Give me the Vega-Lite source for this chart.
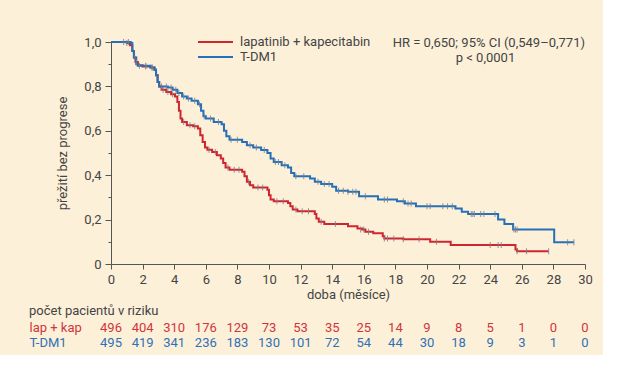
{
  "$schema": "https://vega.github.io/schema/vega-lite/v6.json",
  "background": "#fcf0d9",
  "padding": {"left": 29, "top": 34, "right": 10, "bottom": 5},
  "spacing": 4,
  "config": {
    "font": "Roboto",
    "view": {"stroke": null},
    "axis": {"labelColor": "#444444", "titleColor": "#444444", "domainColor": "#555555", "tickColor": "#555555", "labelFontSize": 13, "titleFontSize": 13, "titleFontWeight": "normal", "grid": false, "labelFont": "Roboto", "titleFont": "Roboto"},
    "axisX": {"labelOverlap": false},
    "legend": {"labelFont": "Roboto"}
  },
  "resolve": {"scale": {"color": "independent"}, "legend": {"color": "independent"}},
  "datasets": {
    "km": [
      {"group": "lapatinib + kapecitabin", "month": 0, "surv": 1.0},
      {"group": "lapatinib + kapecitabin", "month": 1.0, "surv": 0.995},
      {"group": "lapatinib + kapecitabin", "month": 1.2, "surv": 0.985},
      {"group": "lapatinib + kapecitabin", "month": 1.35, "surv": 0.96},
      {"group": "lapatinib + kapecitabin", "month": 1.45, "surv": 0.93},
      {"group": "lapatinib + kapecitabin", "month": 1.55, "surv": 0.91},
      {"group": "lapatinib + kapecitabin", "month": 1.7, "surv": 0.895},
      {"group": "lapatinib + kapecitabin", "month": 2.0, "surv": 0.89},
      {"group": "lapatinib + kapecitabin", "month": 2.5, "surv": 0.885},
      {"group": "lapatinib + kapecitabin", "month": 2.75, "surv": 0.875},
      {"group": "lapatinib + kapecitabin", "month": 2.85, "surv": 0.85},
      {"group": "lapatinib + kapecitabin", "month": 2.95, "surv": 0.82},
      {"group": "lapatinib + kapecitabin", "month": 3.05, "surv": 0.8},
      {"group": "lapatinib + kapecitabin", "month": 3.2, "surv": 0.785},
      {"group": "lapatinib + kapecitabin", "month": 3.5, "surv": 0.775},
      {"group": "lapatinib + kapecitabin", "month": 3.8, "surv": 0.765},
      {"group": "lapatinib + kapecitabin", "month": 4.05, "surv": 0.755},
      {"group": "lapatinib + kapecitabin", "month": 4.2, "surv": 0.73},
      {"group": "lapatinib + kapecitabin", "month": 4.3, "surv": 0.69},
      {"group": "lapatinib + kapecitabin", "month": 4.4, "surv": 0.655},
      {"group": "lapatinib + kapecitabin", "month": 4.5, "surv": 0.64},
      {"group": "lapatinib + kapecitabin", "month": 4.8, "surv": 0.625},
      {"group": "lapatinib + kapecitabin", "month": 5.2, "surv": 0.62},
      {"group": "lapatinib + kapecitabin", "month": 5.5, "surv": 0.61},
      {"group": "lapatinib + kapecitabin", "month": 5.65, "surv": 0.58},
      {"group": "lapatinib + kapecitabin", "month": 5.8, "surv": 0.55},
      {"group": "lapatinib + kapecitabin", "month": 5.95, "surv": 0.525},
      {"group": "lapatinib + kapecitabin", "month": 6.1, "surv": 0.515},
      {"group": "lapatinib + kapecitabin", "month": 6.4, "surv": 0.505},
      {"group": "lapatinib + kapecitabin", "month": 6.7, "surv": 0.49},
      {"group": "lapatinib + kapecitabin", "month": 6.95, "surv": 0.475},
      {"group": "lapatinib + kapecitabin", "month": 7.1, "surv": 0.455},
      {"group": "lapatinib + kapecitabin", "month": 7.25, "surv": 0.435},
      {"group": "lapatinib + kapecitabin", "month": 7.5, "surv": 0.425},
      {"group": "lapatinib + kapecitabin", "month": 8.3, "surv": 0.415},
      {"group": "lapatinib + kapecitabin", "month": 8.45, "surv": 0.395},
      {"group": "lapatinib + kapecitabin", "month": 8.6, "surv": 0.37},
      {"group": "lapatinib + kapecitabin", "month": 8.8, "surv": 0.355},
      {"group": "lapatinib + kapecitabin", "month": 9.0, "surv": 0.345},
      {"group": "lapatinib + kapecitabin", "month": 9.9, "surv": 0.335},
      {"group": "lapatinib + kapecitabin", "month": 10.0, "surv": 0.31},
      {"group": "lapatinib + kapecitabin", "month": 10.1, "surv": 0.29},
      {"group": "lapatinib + kapecitabin", "month": 10.3, "surv": 0.283},
      {"group": "lapatinib + kapecitabin", "month": 11.2, "surv": 0.275},
      {"group": "lapatinib + kapecitabin", "month": 11.35, "surv": 0.26},
      {"group": "lapatinib + kapecitabin", "month": 11.5, "surv": 0.245},
      {"group": "lapatinib + kapecitabin", "month": 11.8, "surv": 0.238},
      {"group": "lapatinib + kapecitabin", "month": 12.9, "surv": 0.225},
      {"group": "lapatinib + kapecitabin", "month": 13.0, "surv": 0.205},
      {"group": "lapatinib + kapecitabin", "month": 13.15, "surv": 0.19},
      {"group": "lapatinib + kapecitabin", "month": 13.5, "surv": 0.18},
      {"group": "lapatinib + kapecitabin", "month": 15.0, "surv": 0.17},
      {"group": "lapatinib + kapecitabin", "month": 15.6, "surv": 0.16},
      {"group": "lapatinib + kapecitabin", "month": 15.9, "surv": 0.155},
      {"group": "lapatinib + kapecitabin", "month": 16.1, "surv": 0.145},
      {"group": "lapatinib + kapecitabin", "month": 16.6, "surv": 0.138},
      {"group": "lapatinib + kapecitabin", "month": 17.2, "surv": 0.125},
      {"group": "lapatinib + kapecitabin", "month": 17.3, "surv": 0.115},
      {"group": "lapatinib + kapecitabin", "month": 18.5, "surv": 0.112},
      {"group": "lapatinib + kapecitabin", "month": 20.2, "surv": 0.1},
      {"group": "lapatinib + kapecitabin", "month": 21.5, "surv": 0.086},
      {"group": "lapatinib + kapecitabin", "month": 25.6, "surv": 0.065},
      {"group": "lapatinib + kapecitabin", "month": 25.7, "surv": 0.057},
      {"group": "lapatinib + kapecitabin", "month": 27.7, "surv": 0.057},
      {"group": "T-DM1", "month": 0, "surv": 1.0},
      {"group": "T-DM1", "month": 1.25, "surv": 0.995},
      {"group": "T-DM1", "month": 1.35, "surv": 0.96},
      {"group": "T-DM1", "month": 1.45, "surv": 0.93},
      {"group": "T-DM1", "month": 1.6, "surv": 0.9},
      {"group": "T-DM1", "month": 1.7, "surv": 0.893},
      {"group": "T-DM1", "month": 2.5, "surv": 0.885},
      {"group": "T-DM1", "month": 2.75, "surv": 0.875},
      {"group": "T-DM1", "month": 2.85, "surv": 0.85},
      {"group": "T-DM1", "month": 2.95, "surv": 0.82},
      {"group": "T-DM1", "month": 3.05, "surv": 0.8},
      {"group": "T-DM1", "month": 3.6, "surv": 0.795},
      {"group": "T-DM1", "month": 3.9, "surv": 0.785},
      {"group": "T-DM1", "month": 4.2, "surv": 0.77},
      {"group": "T-DM1", "month": 4.5, "surv": 0.755},
      {"group": "T-DM1", "month": 4.8, "surv": 0.745},
      {"group": "T-DM1", "month": 5.1, "surv": 0.735},
      {"group": "T-DM1", "month": 5.5, "surv": 0.72},
      {"group": "T-DM1", "month": 5.7, "surv": 0.69},
      {"group": "T-DM1", "month": 5.85, "surv": 0.665},
      {"group": "T-DM1", "month": 6.0, "surv": 0.655},
      {"group": "T-DM1", "month": 6.5, "surv": 0.64},
      {"group": "T-DM1", "month": 7.0, "surv": 0.63},
      {"group": "T-DM1", "month": 7.15, "surv": 0.6},
      {"group": "T-DM1", "month": 7.3, "surv": 0.575},
      {"group": "T-DM1", "month": 7.5, "surv": 0.56},
      {"group": "T-DM1", "month": 8.3, "surv": 0.55},
      {"group": "T-DM1", "month": 8.6, "surv": 0.535},
      {"group": "T-DM1", "month": 9.0, "surv": 0.525},
      {"group": "T-DM1", "month": 9.5, "surv": 0.513},
      {"group": "T-DM1", "month": 9.9, "surv": 0.5},
      {"group": "T-DM1", "month": 10.1, "surv": 0.475},
      {"group": "T-DM1", "month": 10.3, "surv": 0.46},
      {"group": "T-DM1", "month": 10.8, "surv": 0.445},
      {"group": "T-DM1", "month": 11.2, "surv": 0.435},
      {"group": "T-DM1", "month": 11.4, "surv": 0.41},
      {"group": "T-DM1", "month": 11.6, "surv": 0.395},
      {"group": "T-DM1", "month": 12.6, "surv": 0.385},
      {"group": "T-DM1", "month": 12.9, "surv": 0.37},
      {"group": "T-DM1", "month": 13.3, "surv": 0.36},
      {"group": "T-DM1", "month": 14.0, "surv": 0.348},
      {"group": "T-DM1", "month": 14.25, "surv": 0.33},
      {"group": "T-DM1", "month": 15.0, "surv": 0.325},
      {"group": "T-DM1", "month": 15.7, "surv": 0.305},
      {"group": "T-DM1", "month": 16.9, "surv": 0.29},
      {"group": "T-DM1", "month": 18.1, "surv": 0.283},
      {"group": "T-DM1", "month": 18.6, "surv": 0.272},
      {"group": "T-DM1", "month": 19.3, "surv": 0.26},
      {"group": "T-DM1", "month": 21.8, "surv": 0.25},
      {"group": "T-DM1", "month": 22.2, "surv": 0.235},
      {"group": "T-DM1", "month": 22.6, "surv": 0.225},
      {"group": "T-DM1", "month": 24.5, "surv": 0.2},
      {"group": "T-DM1", "month": 24.9, "surv": 0.18},
      {"group": "T-DM1", "month": 25.45, "surv": 0.155},
      {"group": "T-DM1", "month": 28.05, "surv": 0.098},
      {"group": "T-DM1", "month": 29.3, "surv": 0.098}
    ],
    "censor": [
      {"group": "T-DM1", "month": 0.8, "surv": 1.0},
      {"group": "T-DM1", "month": 1.1, "surv": 1.0},
      {"group": "T-DM1", "month": 1.5, "surv": 0.93},
      {"group": "T-DM1", "month": 1.8, "surv": 0.893},
      {"group": "T-DM1", "month": 2.2, "surv": 0.893},
      {"group": "T-DM1", "month": 2.6, "surv": 0.885},
      {"group": "T-DM1", "month": 3.2, "surv": 0.8},
      {"group": "T-DM1", "month": 3.5, "surv": 0.8},
      {"group": "T-DM1", "month": 3.8, "surv": 0.795},
      {"group": "T-DM1", "month": 4.1, "surv": 0.785},
      {"group": "T-DM1", "month": 4.3, "surv": 0.77},
      {"group": "T-DM1", "month": 4.6, "surv": 0.755},
      {"group": "T-DM1", "month": 4.9, "surv": 0.745},
      {"group": "T-DM1", "month": 5.3, "surv": 0.735},
      {"group": "T-DM1", "month": 5.6, "surv": 0.72},
      {"group": "T-DM1", "month": 5.9, "surv": 0.665},
      {"group": "T-DM1", "month": 6.3, "surv": 0.655},
      {"group": "T-DM1", "month": 6.8, "surv": 0.64},
      {"group": "T-DM1", "month": 7.6, "surv": 0.56},
      {"group": "T-DM1", "month": 8.0, "surv": 0.56},
      {"group": "T-DM1", "month": 8.8, "surv": 0.535},
      {"group": "T-DM1", "month": 9.2, "surv": 0.525},
      {"group": "T-DM1", "month": 9.7, "surv": 0.513},
      {"group": "T-DM1", "month": 10.4, "surv": 0.46},
      {"group": "T-DM1", "month": 10.6, "surv": 0.46},
      {"group": "T-DM1", "month": 11.0, "surv": 0.445},
      {"group": "T-DM1", "month": 11.7, "surv": 0.395},
      {"group": "T-DM1", "month": 12.2, "surv": 0.395},
      {"group": "T-DM1", "month": 13.1, "surv": 0.37},
      {"group": "T-DM1", "month": 13.5, "surv": 0.36},
      {"group": "T-DM1", "month": 13.8, "surv": 0.36},
      {"group": "T-DM1", "month": 14.4, "surv": 0.33},
      {"group": "T-DM1", "month": 14.7, "surv": 0.33},
      {"group": "T-DM1", "month": 15.0, "surv": 0.325},
      {"group": "T-DM1", "month": 15.3, "surv": 0.325},
      {"group": "T-DM1", "month": 15.5, "surv": 0.325},
      {"group": "T-DM1", "month": 16.1, "surv": 0.305},
      {"group": "T-DM1", "month": 17.3, "surv": 0.29},
      {"group": "T-DM1", "month": 17.5, "surv": 0.29},
      {"group": "T-DM1", "month": 18.5, "surv": 0.283},
      {"group": "T-DM1", "month": 18.8, "surv": 0.272},
      {"group": "T-DM1", "month": 19.0, "surv": 0.272},
      {"group": "T-DM1", "month": 20.0, "surv": 0.26},
      {"group": "T-DM1", "month": 20.2, "surv": 0.26},
      {"group": "T-DM1", "month": 21.0, "surv": 0.26},
      {"group": "T-DM1", "month": 21.3, "surv": 0.26},
      {"group": "T-DM1", "month": 21.6, "surv": 0.26},
      {"group": "T-DM1", "month": 22.8, "surv": 0.225},
      {"group": "T-DM1", "month": 22.9, "surv": 0.225},
      {"group": "T-DM1", "month": 23.0, "surv": 0.225},
      {"group": "T-DM1", "month": 23.4, "surv": 0.225},
      {"group": "T-DM1", "month": 23.6, "surv": 0.225},
      {"group": "T-DM1", "month": 24.3, "surv": 0.225},
      {"group": "T-DM1", "month": 25.5, "surv": 0.155},
      {"group": "T-DM1", "month": 25.6, "surv": 0.155},
      {"group": "T-DM1", "month": 25.7, "surv": 0.155},
      {"group": "T-DM1", "month": 28.9, "surv": 0.098},
      {"group": "T-DM1", "month": 29.3, "surv": 0.098},
      {"group": "lapatinib + kapecitabin", "month": 1.0, "surv": 0.995},
      {"group": "lapatinib + kapecitabin", "month": 1.6, "surv": 0.91},
      {"group": "lapatinib + kapecitabin", "month": 2.2, "surv": 0.89},
      {"group": "lapatinib + kapecitabin", "month": 2.6, "surv": 0.885},
      {"group": "lapatinib + kapecitabin", "month": 3.3, "surv": 0.785},
      {"group": "lapatinib + kapecitabin", "month": 3.6, "surv": 0.775},
      {"group": "lapatinib + kapecitabin", "month": 3.9, "surv": 0.765},
      {"group": "lapatinib + kapecitabin", "month": 4.6, "surv": 0.64},
      {"group": "lapatinib + kapecitabin", "month": 5.0, "surv": 0.625},
      {"group": "lapatinib + kapecitabin", "month": 5.3, "surv": 0.62},
      {"group": "lapatinib + kapecitabin", "month": 6.2, "surv": 0.515},
      {"group": "lapatinib + kapecitabin", "month": 6.6, "surv": 0.505},
      {"group": "lapatinib + kapecitabin", "month": 7.4, "surv": 0.435},
      {"group": "lapatinib + kapecitabin", "month": 7.8, "surv": 0.425},
      {"group": "lapatinib + kapecitabin", "month": 8.1, "surv": 0.425},
      {"group": "lapatinib + kapecitabin", "month": 8.7, "surv": 0.37},
      {"group": "lapatinib + kapecitabin", "month": 9.3, "surv": 0.345},
      {"group": "lapatinib + kapecitabin", "month": 9.6, "surv": 0.345},
      {"group": "lapatinib + kapecitabin", "month": 10.5, "surv": 0.283},
      {"group": "lapatinib + kapecitabin", "month": 10.9, "surv": 0.283},
      {"group": "lapatinib + kapecitabin", "month": 11.7, "surv": 0.245},
      {"group": "lapatinib + kapecitabin", "month": 12.1, "surv": 0.238},
      {"group": "lapatinib + kapecitabin", "month": 12.5, "surv": 0.238},
      {"group": "lapatinib + kapecitabin", "month": 13.3, "surv": 0.19},
      {"group": "lapatinib + kapecitabin", "month": 14.2, "surv": 0.18},
      {"group": "lapatinib + kapecitabin", "month": 15.8, "surv": 0.155},
      {"group": "lapatinib + kapecitabin", "month": 16.0, "surv": 0.155},
      {"group": "lapatinib + kapecitabin", "month": 16.3, "surv": 0.145},
      {"group": "lapatinib + kapecitabin", "month": 17.3, "surv": 0.115},
      {"group": "lapatinib + kapecitabin", "month": 17.5, "surv": 0.115},
      {"group": "lapatinib + kapecitabin", "month": 17.9, "surv": 0.115},
      {"group": "lapatinib + kapecitabin", "month": 18.5, "surv": 0.112},
      {"group": "lapatinib + kapecitabin", "month": 19.5, "surv": 0.112},
      {"group": "lapatinib + kapecitabin", "month": 20.6, "surv": 0.1},
      {"group": "lapatinib + kapecitabin", "month": 24.0, "surv": 0.086},
      {"group": "lapatinib + kapecitabin", "month": 24.5, "surv": 0.086},
      {"group": "lapatinib + kapecitabin", "month": 24.7, "surv": 0.086},
      {"group": "lapatinib + kapecitabin", "month": 25.7, "surv": 0.057},
      {"group": "lapatinib + kapecitabin", "month": 26.3, "surv": 0.057},
      {"group": "lapatinib + kapecitabin", "month": 27.7, "surv": 0.057}
    ],
    "risk": [
      {"group": "lapatinib + kapecitabin", "month": 0, "n": 496},
      {"group": "lapatinib + kapecitabin", "month": 2, "n": 404},
      {"group": "lapatinib + kapecitabin", "month": 4, "n": 310},
      {"group": "lapatinib + kapecitabin", "month": 6, "n": 176},
      {"group": "lapatinib + kapecitabin", "month": 8, "n": 129},
      {"group": "lapatinib + kapecitabin", "month": 10, "n": 73},
      {"group": "lapatinib + kapecitabin", "month": 12, "n": 53},
      {"group": "lapatinib + kapecitabin", "month": 14, "n": 35},
      {"group": "lapatinib + kapecitabin", "month": 16, "n": 25},
      {"group": "lapatinib + kapecitabin", "month": 18, "n": 14},
      {"group": "lapatinib + kapecitabin", "month": 20, "n": 9},
      {"group": "lapatinib + kapecitabin", "month": 22, "n": 8},
      {"group": "lapatinib + kapecitabin", "month": 24, "n": 5},
      {"group": "lapatinib + kapecitabin", "month": 26, "n": 1},
      {"group": "lapatinib + kapecitabin", "month": 28, "n": 0},
      {"group": "lapatinib + kapecitabin", "month": 30, "n": 0},
      {"group": "T-DM1", "month": 0, "n": 495},
      {"group": "T-DM1", "month": 2, "n": 419},
      {"group": "T-DM1", "month": 4, "n": 341},
      {"group": "T-DM1", "month": 6, "n": 236},
      {"group": "T-DM1", "month": 8, "n": 183},
      {"group": "T-DM1", "month": 10, "n": 130},
      {"group": "T-DM1", "month": 12, "n": 101},
      {"group": "T-DM1", "month": 14, "n": 72},
      {"group": "T-DM1", "month": 16, "n": 54},
      {"group": "T-DM1", "month": 18, "n": 44},
      {"group": "T-DM1", "month": 20, "n": 30},
      {"group": "T-DM1", "month": 22, "n": 18},
      {"group": "T-DM1", "month": 24, "n": 9},
      {"group": "T-DM1", "month": 26, "n": 3},
      {"group": "T-DM1", "month": 28, "n": 1},
      {"group": "T-DM1", "month": 30, "n": 0}
    ]
  },
  "vconcat": [
    {
      "width": 474,
      "height": 222,
      "layer": [
        {
          "data": {"name": "km"},
          "mark": {"type": "line", "interpolate": "step-after", "strokeWidth": 2},
          "encoding": {
            "x": {"field": "month", "type": "quantitative", "scale": {"domain": [0, 30], "nice": false},
                  "axis": {"values": [0, 2, 4, 6, 8, 10, 12, 14, 16, 18, 20, 22, 24, 26, 28, 30], "title": "doba (měsíce)", "tickSize": 5, "labelPadding": 4, "titlePadding": 2, "labelOverlap": false, "labelBound": false, "labelFlush": false}},
            "y": {"field": "surv", "type": "quantitative", "scale": {"domain": [0, 1], "nice": false},
                  "axis": {"values": [0, 0.1, 0.2, 0.3, 0.4, 0.5, 0.6, 0.7, 0.8, 0.9, 1.0],
                           "labelExpr": "datum.value == 0 ? '0' : (round(datum.value * 10) % 2 == 0 ? replace(format(datum.value, '.1f'), '.', ',') : '')",
                           "tickSize": {"condition": {"test": "round(datum.value * 10) % 2 == 0", "value": 6}, "value": 3},
                           "labelPadding": 4, "labelOverlap": false, "title": "přežití bez progrese", "titlePadding": 14}},
            "color": {"field": "group", "type": "nominal",
                      "scale": {"domain": ["lapatinib + kapecitabin", "T-DM1"], "range": ["#cf2530", "#2670b8"]},
                      "legend": {"orient": "none", "legendX": 86, "legendY": -7.5, "title": null, "symbolType": "stroke", "symbolSize": 1225, "symbolStrokeWidth": 2, "clipHeight": 15, "rowPadding": 0, "labelOffset": 6, "labelFontSize": 13, "labelColor": "#444444", "padding": 0}}
          }
        },
        {
          "data": {"name": "censor"},
          "mark": {"type": "tick", "orient": "vertical", "size": 6, "thickness": 1, "color": "#7c7f8e", "opacity": 0.85},
          "encoding": {
            "x": {"field": "month", "type": "quantitative",
                  "axis": {"values": [0, 2, 4, 6, 8, 10, 12, 14, 16, 18, 20, 22, 24, 26, 28, 30], "title": "doba (měsíce)", "tickSize": 5, "labelPadding": 4, "titlePadding": 2, "labelOverlap": false, "labelBound": false, "labelFlush": false}},
            "y": {"field": "surv", "type": "quantitative",
                  "axis": {"values": [0, 0.1, 0.2, 0.3, 0.4, 0.5, 0.6, 0.7, 0.8, 0.9, 1.0],
                           "labelExpr": "datum.value == 0 ? '0' : (round(datum.value * 10) % 2 == 0 ? replace(format(datum.value, '.1f'), '.', ',') : '')",
                           "tickSize": {"condition": {"test": "round(datum.value * 10) % 2 == 0", "value": 6}, "value": 3},
                           "labelPadding": 4, "labelOverlap": false, "title": "přežití bez progrese", "titlePadding": 14}}
          }
        },
        {
          "data": {"values": [{}]},
          "mark": {"type": "text", "align": "right", "baseline": "middle", "fontSize": 13, "color": "#444444"},
          "encoding": {
            "x": {"datum": 30, "type": "quantitative",
                  "axis": {"values": [0, 2, 4, 6, 8, 10, 12, 14, 16, 18, 20, 22, 24, 26, 28, 30], "title": "doba (měsíce)", "tickSize": 5, "labelPadding": 4, "titlePadding": 2, "labelOverlap": false, "labelBound": false, "labelFlush": false}},
            "y": {"datum": 0.995, "type": "quantitative",
                  "axis": {"values": [0, 0.1, 0.2, 0.3, 0.4, 0.5, 0.6, 0.7, 0.8, 0.9, 1.0],
                           "labelExpr": "datum.value == 0 ? '0' : (round(datum.value * 10) % 2 == 0 ? replace(format(datum.value, '.1f'), '.', ',') : '')",
                           "tickSize": {"condition": {"test": "round(datum.value * 10) % 2 == 0", "value": 6}, "value": 3},
                           "labelPadding": 4, "labelOverlap": false, "title": "přežití bez progrese", "titlePadding": 14}},
            "text": {"value": "HR = 0,650; 95% CI (0,549–0,771)"}
          }
        },
        {
          "data": {"values": [{}]},
          "mark": {"type": "text", "align": "center", "baseline": "middle", "fontSize": 13, "color": "#444444"},
          "encoding": {
            "x": {"datum": 23.7, "type": "quantitative",
                  "axis": {"values": [0, 2, 4, 6, 8, 10, 12, 14, 16, 18, 20, 22, 24, 26, 28, 30], "title": "doba (měsíce)", "tickSize": 5, "labelPadding": 4, "titlePadding": 2, "labelOverlap": false, "labelBound": false, "labelFlush": false}},
            "y": {"datum": 0.93, "type": "quantitative",
                  "axis": {"values": [0, 0.1, 0.2, 0.3, 0.4, 0.5, 0.6, 0.7, 0.8, 0.9, 1.0],
                           "labelExpr": "datum.value == 0 ? '0' : (round(datum.value * 10) % 2 == 0 ? replace(format(datum.value, '.1f'), '.', ',') : '')",
                           "tickSize": {"condition": {"test": "round(datum.value * 10) % 2 == 0", "value": 6}, "value": 3},
                           "labelPadding": 4, "labelOverlap": false, "title": "přežití bez progrese", "titlePadding": 14}},
            "text": {"value": "p < 0,0001"}
          }
        }
      ]
    },
    {
      "data": {"name": "risk"},
      "width": 474,
      "height": 30,
      "title": {"text": "počet pacientů v riziku", "anchor": "start", "frame": "bounds", "fontSize": 13, "fontWeight": "normal", "color": "#444444", "offset": 2, "font": "Roboto"},
      "mark": {"type": "text", "fontSize": 13, "baseline": "middle"},
      "encoding": {
        "x": {"field": "month", "type": "quantitative", "scale": {"domain": [0, 30], "nice": false}, "axis": null},
        "y": {"field": "group", "type": "nominal", "sort": ["lapatinib + kapecitabin", "T-DM1"],
              "axis": {"title": null, "domain": false, "ticks": false, "tickSize": 0, "labelAlign": "left", "labelPadding": 82,
                       "labelExpr": "datum.value == 'T-DM1' ? 'T-DM1' : 'lap + kap'",
                       "labelColor": {"condition": {"test": "datum.value == 'T-DM1'", "value": "#3070b5"}, "value": "#d0353d"}}},
        "color": {"field": "group", "type": "nominal",
                  "scale": {"domain": ["lapatinib + kapecitabin", "T-DM1"], "range": ["#d0353d", "#3070b5"]}, "legend": null},
        "text": {"field": "n", "type": "quantitative"}
      }
    }
  ]
}
